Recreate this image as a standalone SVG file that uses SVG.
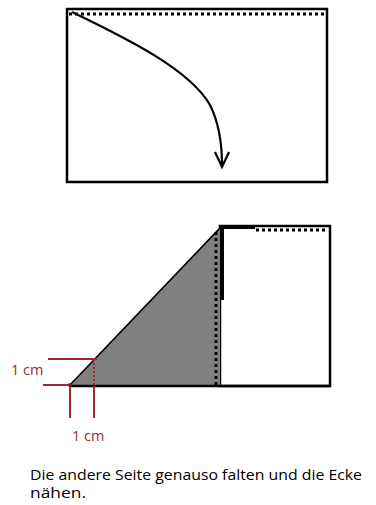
<svg xmlns="http://www.w3.org/2000/svg" width="376" height="505" viewBox="0 0 376 505">
<style>
.frame{fill:#fff;stroke:#000;stroke-width:2.5}
.dots{fill:none;stroke:#000;stroke-width:3;stroke-dasharray:3,3}
.red{fill:none;stroke:#9b2d2d;stroke-width:2}
.lbl{font-family:"Open Sans","Liberation Sans",sans-serif;font-size:14.5px;fill:#9b2d2d}
.txt{font-family:"Open Sans","Liberation Sans",sans-serif;font-size:15px;fill:#000}
</style>
<rect width="376" height="505" fill="#fff"/>
<g id="top-sheet">
<rect class="frame" x="67" y="9" width="260" height="173"/>
<line class="dots" x1="69" y1="14" x2="327" y2="14"/>
</g>
<g id="connectors">
<path d="M72,12 C130,40 190,70 210,105 C220,125 222,145 222,165" fill="none" stroke="#000" stroke-width="2.2"/>
<path d="M215,152 L222,167 L229,152" fill="none" stroke="#000" stroke-width="2.2"/>
</g>
<g id="bottom-sheet">
<rect class="frame" x="220" y="226" width="110" height="160"/>
<polygon points="70,386 220,228 220,386" fill="#808080" stroke="none"/>
<line x1="70" y1="385" x2="220" y2="228" stroke="#000" stroke-width="1.8"/>
<line x1="70" y1="386" x2="330" y2="386" stroke="#000" stroke-width="2.5"/>
<line class="dots" x1="216" y1="232" x2="216" y2="386"/>
<line class="dots" x1="256" y1="230" x2="328" y2="230"/>
<line x1="222" y1="226" x2="222" y2="300" stroke="#000" stroke-width="4"/>
<line x1="220" y1="227" x2="255" y2="227" stroke="#000" stroke-width="4"/>
</g>
<g id="measure">
<line class="red" x1="48" y1="359" x2="97" y2="359"/>
<line class="red" x1="43" y1="385" x2="70" y2="385"/>
<line class="red" x1="70" y1="385" x2="70" y2="418"/>
<line class="red" x1="94" y1="359" x2="94" y2="386" stroke-dasharray="2,2"/>
<line class="red" x1="94" y1="386" x2="94" y2="418"/>
<circle cx="70" cy="385" r="2" fill="#7a1f1f"/>
<text class="lbl" x="11" y="375">1 cm</text>
<text class="lbl" x="72" y="441">1 cm</text>
</g>
<g id="caption">
<text class="txt" x="30" y="480" textLength="332" lengthAdjust="spacingAndGlyphs">Die andere Seite genauso falten und die Ecke</text>
<text class="txt" x="30" y="498" textLength="56" lengthAdjust="spacingAndGlyphs">nähen.</text>
</g>
</svg>
